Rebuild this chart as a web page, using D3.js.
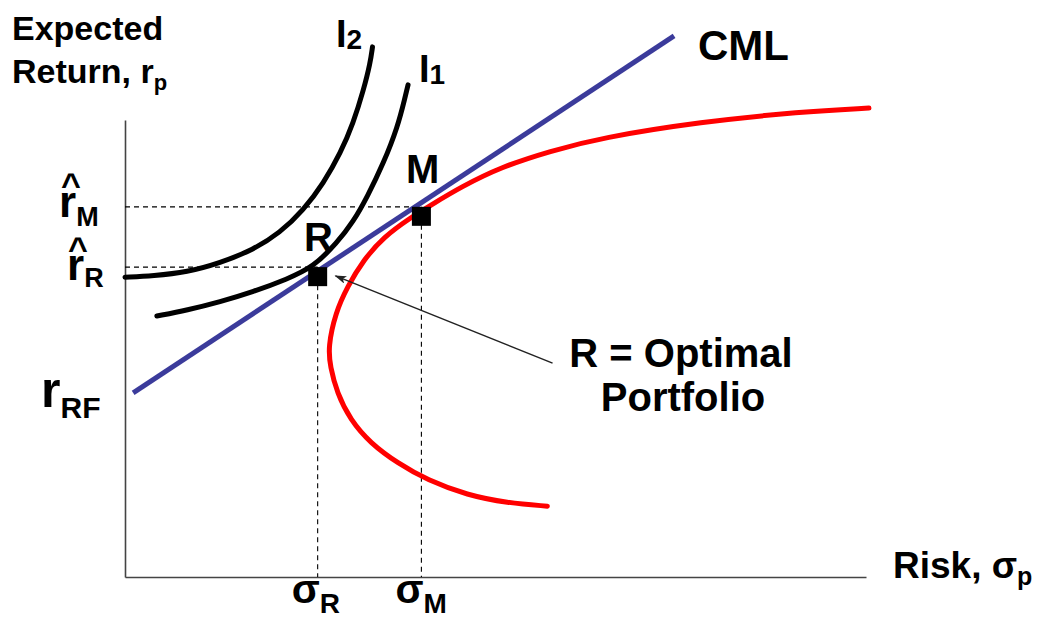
<!DOCTYPE html>
<html>
<head>
<meta charset="utf-8">
<script src="https://cdn.jsdelivr.net/npm/d3@7"></script>
<style>
  html, body { margin: 0; padding: 0; background: #fff; }
  svg text { font-family: "Liberation Sans", Arial, sans-serif; font-weight: bold; fill: #000; }
</style>
</head>
<body>
<div id="chart"></div>
<script>
// risk (sigma) / expected return, arbitrary units
const cmlPoints = [[0.11, 4.03], [7.41, 11.84]];

const frontier = [
  [5.70, 1.55], [5.16, 1.62], [4.62, 1.79], [4.08, 2.12], [3.68, 2.49], [3.31, 2.93],
  [3.04, 3.44], [2.86, 4.03], [2.77, 4.60], [2.74, 5.03], [2.84, 5.78], [3.00, 6.35],
  [3.22, 6.94], [3.49, 7.44], [3.85, 7.86], [4.15, 8.16], [4.53, 8.53], [5.07, 8.97],
  [5.74, 9.32], [6.42, 9.61], [7.77, 9.96], [9.12, 10.18], [10.04, 10.26]
];

const indiff2 = [
  [0.00, 6.56], [0.38, 6.59], [0.84, 6.67], [1.28, 6.87], [1.73, 7.16], [2.09, 7.53], [2.41, 8.03],
  [2.68, 8.62], [2.91, 9.28], [3.08, 9.93], [3.22, 10.66], [3.31, 11.25], [3.34, 11.60]
];
const indiff1 = [
  [0.43, 5.71], [0.84, 5.84], [1.28, 6.02], [1.73, 6.24], [2.19, 6.52], [2.54, 6.78], [2.86, 7.31],
  [3.08, 7.77], [3.27, 8.32], [3.49, 9.06], [3.68, 9.85], [3.78, 10.50], [3.82, 10.77]
];

// the two marked portfolios
const portfolios = [
  { name: 'R', sigma: 2.60, ret: 6.78 },
  { name: 'M', sigma: 4.00, ret: 8.10 }
];

// arrow from the caption to R
const arrowFrom = [5.77, 4.68];
const arrowTo = [2.84, 6.59];

const width = 1054, height = 619;
const margin = { top: 120, right: 188, bottom: 42, left: 125 };

const svg = d3.select('#chart').append('svg')
  .attr('width', width)
  .attr('height', height);

const x = d3.scaleLinear().domain([0, 10]).range([margin.left, width - margin.right]);
const y = d3.scaleLinear().domain([0, 10]).range([height - margin.bottom, margin.top]);

// axes, lines only
svg.append('g')
  .attr('transform', `translate(0,${y(0)})`)
  .call(d3.axisBottom(x).ticks(0).tickSizeOuter(0))
  .call(g => g.select('.domain').attr('stroke', '#444').attr('stroke-width', 1.6));
svg.append('g')
  .attr('transform', `translate(${x(0)},0)`)
  .call(d3.axisLeft(y).ticks(0).tickSizeOuter(0))
  .call(g => g.select('.domain').attr('stroke', '#444').attr('stroke-width', 1.6));

// dashed guides
const guides = svg.append('g')
  .attr('stroke', '#000')
  .attr('stroke-width', 1.1)
  .attr('stroke-dasharray', '5,4')
  .attr('fill', 'none');
portfolios.forEach(p => {
  guides.append('line')
    .attr('x1', x(0)).attr('y1', y(p.ret))
    .attr('x2', x(p.sigma)).attr('y2', y(p.ret));
  guides.append('line')
    .attr('x1', x(p.sigma)).attr('y1', y(p.ret))
    .attr('x2', x(p.sigma)).attr('y2', y(0));
});

const line = d3.line()
  .x(d => x(d[0]))
  .y(d => y(d[1]))
  .curve(d3.curveBasis);

// efficient frontier
svg.append('path')
  .datum(frontier)
  .attr('d', line)
  .attr('fill', 'none')
  .attr('stroke', '#ff0000')
  .attr('stroke-width', 5)
  .attr('stroke-linecap', 'round');

// indifference curves
[indiff2, indiff1].forEach(c => {
  svg.append('path')
    .datum(c)
    .attr('d', line)
    .attr('fill', 'none')
    .attr('stroke', '#000')
    .attr('stroke-width', 5)
    .attr('stroke-linecap', 'round');
});

// CML
svg.append('path')
  .datum(cmlPoints)
  .attr('d', d3.line().x(d => x(d[0])).y(d => y(d[1])))
  .attr('stroke', '#3b3b9b')
  .attr('stroke-width', 5);

// squares
const sq = 19;
svg.selectAll('rect.pt')
  .data(portfolios)
  .join('rect')
  .attr('class', 'pt')
  .attr('x', d => x(d.sigma) - sq / 2)
  .attr('y', d => y(d.ret))
  .attr('width', sq)
  .attr('height', sq)
  .attr('fill', '#000');

// arrow
svg.append('defs').append('marker')
  .attr('id', 'head')
  .attr('viewBox', '0 0 12 8')
  .attr('refX', 11).attr('refY', 4)
  .attr('markerWidth', 12).attr('markerHeight', 8)
  .attr('markerUnits', 'userSpaceOnUse')
  .attr('orient', 'auto')
  .append('path')
  .attr('d', 'M0,0 L12,4 L0,8 L3,4 Z')
  .attr('fill', '#222');
svg.append('line')
  .attr('x1', x(arrowFrom[0])).attr('y1', y(arrowFrom[1]))
  .attr('x2', x(arrowTo[0])).attr('y2', y(arrowTo[1]))
  .attr('stroke', '#222')
  .attr('stroke-width', 1.5)
  .attr('marker-end', 'url(#head)');

// text with optional subscript
function label(px, py, main, sub, size, subSize, drop, anchor) {
  const t = svg.append('text')
    .attr('x', px).attr('y', py)
    .attr('text-anchor', anchor || 'start')
    .style('font-size', size + 'px');
  t.append('tspan').text(main);
  if (sub) {
    t.append('tspan')
      .attr('dy', drop)
      .style('font-size', subSize + 'px')
      .text(sub);
  }
  return t;
}

// r with a hat, all in one text element
function hatLabel(px, py, hatX, hatY, sub, drop) {
  const t = svg.append('text').style('font-size', '44px');
  t.append('tspan').attr('x', hatX).attr('y', hatY)
    .attr('text-anchor', 'middle').style('font-size', '34px').text('^');
  t.append('tspan').attr('x', px).attr('y', py).text('r');
  t.append('tspan').attr('dy', drop).style('font-size', '27px').text(sub);
  return t;
}

label(12, 40, 'Expected', null, 34);
label(12, 83, 'Return, r', 'p', 34, 22, 7);

label(336, 47, 'I', '2', 38, 28, 2);
label(419, 82, 'I', '1', 38, 28, 2);
label(698, 60, 'CML', null, 42);

label(406, 183, 'M', null, 40);
label(304, 251, 'R', null, 40);

label(681, 367, 'R = Optimal', null, 40, null, 0, 'middle');
label(683, 411, 'Portfolio', null, 40, null, 0, 'middle');

// y-side labels
hatLabel(59, 217, 71, 196, 'M', 9);
hatLabel(67, 280, 78, 260, 'R', 7);
label(41, 407, 'r', 'RF', 50, 30, 11);

// x-side labels
portfolios.forEach(p => {
  label(x(p.sigma) - 26, 603, 'σ', p.name, 41, 28, 10);
});
label(893, 578, 'Risk, σ', 'p', 37, 25, 7);
</script>
</body>
</html>
